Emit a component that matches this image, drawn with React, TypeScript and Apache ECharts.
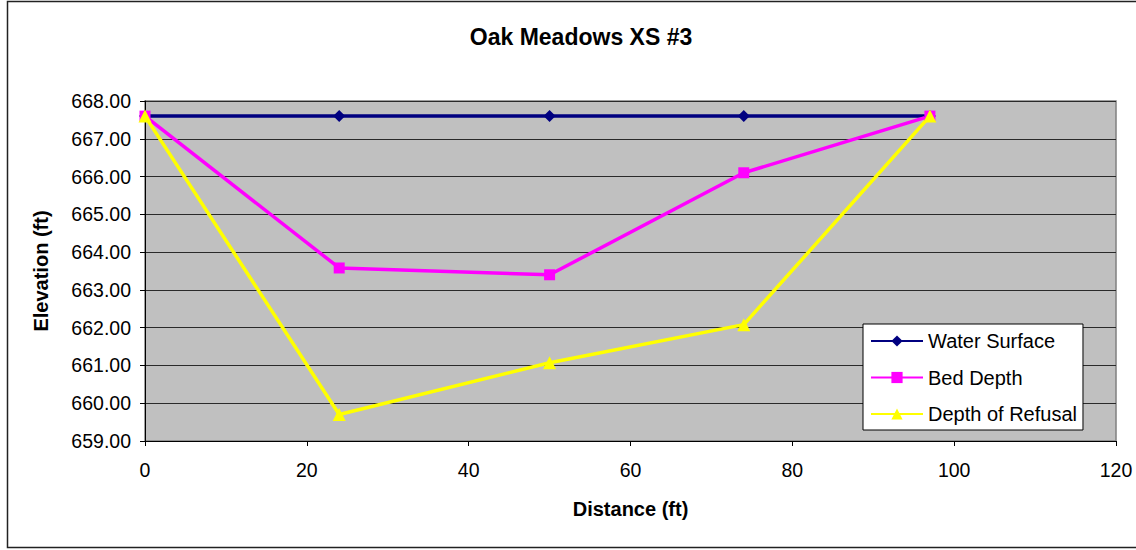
import React, { useEffect, useRef } from "react";
import * as echarts from "echarts";

const distances = [0, 24, 50, 74, 97];
const waterSurface = [667.6, 667.6, 667.6, 667.6, 667.6];
const bedDepth = [667.6, 663.58, 663.4, 666.1, 667.6];
const depthOfRefusal = [667.6, 659.7, 661.07, 662.08, 667.6];
const seriesNames = ["Water Surface", "Bed Depth", "Depth of Refusal"];

const FONT = "'Liberation Sans', Arial, sans-serif";

export default function App() {
  const ref = useRef<HTMLDivElement>(null);
  useEffect(() => {
    document.body.style.margin = "0";
    const chart = echarts.init(ref.current!, null, { renderer: "svg" });
    const pair = (ys: number[]) => distances.map((x, i) => [x, ys[i]]);
    chart.setOption({
      animation: false,
      backgroundColor: "#ffffff",
      textStyle: { fontFamily: FONT },
      title: {
        text: "Oak Meadows XS #3",
        left: 576,
        top: 20,
        textAlign: "center",
        textStyle: { fontFamily: FONT, fontSize: 23, fontWeight: "bold", color: "#000" },
      },
      graphic: [
        {
          type: "rect",
          shape: { x: 7.5, y: 1.5, width: 1140, height: 546 },
          style: { fill: "none", stroke: "#222", lineWidth: 1.5 },
          silent: true,
          z: 100,
        },
      ],
      grid: {
        left: 145,
        right: 20,
        top: 101,
        bottom: 109,
        show: true,
        backgroundColor: "#c0c0c0",
        borderColor: "#808080",
        borderWidth: 1.5,
      },
      legend: {
        orient: "vertical",
        left: 863,
        top: 324,
        backgroundColor: "#ffffff",
        borderColor: "#000",
        borderWidth: 1,
        borderRadius: 0,
        padding: [7, 6, 6, 7],
        itemWidth: 52,
        itemHeight: 14,
        itemGap: 16.5,
        textStyle: { fontFamily: FONT, fontSize: 20, color: "#000" },
        data: seriesNames,
      },
      xAxis: {
        type: "value",
        min: 0,
        max: 120,
        interval: 20,
        name: "Distance (ft)",
        nameLocation: "middle",
        nameGap: 58,
        nameTextStyle: { fontFamily: FONT, fontSize: 20, fontWeight: "bold", color: "#000" },
        axisLine: { show: true, onZero: false, lineStyle: { color: "#000", width: 1 } },
        axisTick: { show: true, length: 5, lineStyle: { color: "#000" } },
        axisLabel: { fontFamily: FONT, fontSize: 19.5, color: "#000", margin: 19 },
        splitLine: { show: false },
      },
      yAxis: {
        type: "value",
        min: 659,
        max: 668,
        interval: 1,
        name: "Elevation (ft)",
        nameLocation: "middle",
        nameGap: 94,
        nameRotate: 90,
        nameTextStyle: { fontFamily: FONT, fontSize: 20, fontWeight: "bold", color: "#000" },
        axisLine: { show: true, lineStyle: { color: "#000", width: 1 } },
        axisTick: { show: true, length: 5, lineStyle: { color: "#000" } },
        axisLabel: {
          fontFamily: FONT,
          fontSize: 19.5,
          color: "#000",
          margin: 14,
          formatter: (v: number) => v.toFixed(2),
        },
        splitLine: { show: true, lineStyle: { color: "#2a2a2a", width: 1 } },
      },
      series: [
        {
          name: seriesNames[0],
          type: "line",
          data: pair(waterSurface),
          color: "#000080",
          symbol: "diamond",
          symbolSize: 12,
          lineStyle: { width: 3.5, color: "#000080" },
          itemStyle: { color: "#000080" },
        },
        {
          name: seriesNames[1],
          type: "line",
          data: pair(bedDepth),
          color: "#ff00ff",
          symbol: "rect",
          symbolSize: 11,
          lineStyle: { width: 3.5, color: "#ff00ff" },
          itemStyle: { color: "#ff00ff" },
        },
        {
          name: seriesNames[2],
          type: "line",
          data: pair(depthOfRefusal),
          color: "#ffff00",
          symbol: "triangle",
          symbolSize: 13,
          lineStyle: { width: 3.5, color: "#ffff00" },
          itemStyle: { color: "#ffff00" },
        },
      ],
    });
    return () => chart.dispose();
  }, []);
  return <div ref={ref} style={{ width: 1136, height: 550 }} />;
}
